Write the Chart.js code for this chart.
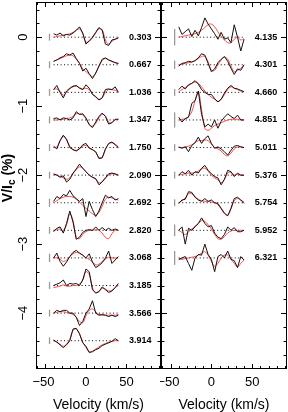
<!DOCTYPE html>
<html>
<head>
<meta charset="utf-8">
<script src="https://cdn.jsdelivr.net/npm/chart.js@4"></script>
<style>
  html, body { margin: 0; padding: 0; background: #fff; }
  #wrap { position: relative; width: 288px; height: 412px; }
  canvas { position: absolute; top: 0; }
</style>
</head>
<body>
<div id="wrap">
  <canvas id="leftPanel" width="162" height="412" style="left:0"></canvas>
  <canvas id="rightPanel" width="128" height="412" style="left:160px"></canvas>
</div>
<script>
// velocity grid (km/s)
const velocity = [-40, -36, -32, -28, -24, -20, -16, -12, -8, -4, 0, 4, 8, 12, 16, 20, 24, 28, 32, 36, 40]

// rotational phases
const phasesLeft = ["0.303", "0.667", "1.036", "1.347", "1.750", "2.090", "2.692", "2.820", "3.068", "3.185", "3.566", "3.914"]
const phasesRight = ["4.135", "4.301", "4.660", "4.851", "5.011", "5.376", "5.754", "5.952", "6.321"]

// observed Stokes V (%), left column
const obsLeft = [
  [0.05, 0.03, 0.06, 0.02, 0.04, 0.03, 0.06, 0.10, 0.15, 0.06, -0.10, -0.05, 0.00, 0.07, 0.14, 0.10, -0.10, -0.12, -0.04, -0.03, -0.01],
  [0.05, 0.07, 0.10, 0.12, 0.16, 0.14, 0.17, 0.09, 0.02, -0.09, -0.05, -0.13, -0.20, -0.12, -0.02, 0.08, 0.10, 0.07, 0.05, 0.03, 0.02],
  [0.04, 0.10, 0.00, -0.08, 0.02, 0.06, 0.09, 0.10, 0.06, 0.04, 0.11, 0.06, -0.03, -0.06, -0.11, -0.08, 0.04, 0.05, 0.04, 0.08, 0.00],
  [0.02, 0.03, 0.00, 0.03, 0.02, 0.00, 0.03, 0.12, 0.08, 0.09, 0.03, -0.07, -0.11, -0.03, 0.05, 0.10, 0.05, -0.06, -0.04, 0.01, 0.01],
  [0.02, -0.02, 0.10, 0.18, 0.12, 0.00, -0.03, -0.05, -0.02, 0.04, 0.06, -0.01, -0.03, -0.06, -0.16, -0.15, -0.02, 0.06, 0.08, 0.04, 0.00],
  [0.02, 0.00, -0.03, -0.01, -0.10, -0.06, 0.03, 0.09, 0.16, 0.10, 0.05, 0.00, -0.03, -0.05, -0.14, -0.10, -0.04, 0.02, 0.03, 0.02, 0.00],
  [0.02, 0.09, 0.06, 0.12, 0.10, 0.18, 0.10, 0.06, 0.02, 0.06, -0.20, 0.02, -0.10, -0.20, -0.12, 0.00, 0.11, 0.07, 0.09, 0.04, 0.06],
  [-0.02, 0.03, 0.05, -0.04, 0.10, 0.28, 0.12, -0.13, -0.10, -0.03, 0.00, 0.01, 0.00, 0.05, 0.00, 0.04, 0.00, 0.03, 0.00, 0.02, 0.00],
  [0.00, 0.07, -0.05, -0.12, -0.06, 0.02, 0.08, 0.11, 0.07, 0.04, 0.00, 0.06, -0.06, -0.14, -0.11, -0.07, 0.00, 0.10, -0.08, -0.03, 0.02],
  [0.00, 0.02, 0.04, 0.08, 0.00, 0.03, 0.02, 0.03, 0.00, 0.08, 0.24, 0.20, -0.06, -0.11, -0.09, -0.02, -0.06, -0.10, -0.08, -0.03, 0.03],
  [0.00, 0.04, 0.02, 0.04, 0.04, 0.00, 0.00, -0.06, -0.18, -0.12, 0.00, 0.06, 0.18, 0.00, -0.03, -0.02, -0.03, -0.05, -0.03, -0.05, -0.03],
  [0.01, -0.02, -0.06, -0.10, -0.06, 0.00, 0.17, 0.18, 0.10, -0.03, -0.08, -0.17, -0.16, -0.13, -0.11, -0.07, -0.05, -0.03, -0.01, 0.03, 0.00]
]

// model Stokes V (%), left column
const modLeft = [
  [0.00, 0.01, 0.02, 0.03, 0.04, 0.05, 0.07, 0.10, 0.12, 0.05, -0.07, -0.06, -0.01, 0.06, 0.12, 0.11, -0.04, -0.10, -0.06, -0.03, -0.01],
  [0.05, 0.07, 0.09, 0.11, 0.13, 0.14, 0.13, 0.08, 0.02, -0.06, -0.10, -0.14, -0.17, -0.12, -0.02, 0.06, 0.09, 0.07, 0.05, 0.03, 0.02],
  [0.04, 0.05, 0.01, -0.04, 0.00, 0.05, 0.08, 0.09, 0.07, 0.05, 0.06, 0.04, -0.02, -0.07, -0.10, -0.08, 0.00, 0.04, 0.04, 0.03, 0.01],
  [0.00, 0.00, 0.01, 0.01, 0.02, 0.03, 0.05, 0.09, 0.09, 0.07, 0.02, -0.06, -0.09, -0.05, 0.03, 0.08, 0.06, -0.03, -0.04, 0.00, 0.01],
  [0.00, 0.01, 0.10, 0.16, 0.11, 0.02, -0.03, -0.04, -0.01, 0.02, 0.03, 0.00, -0.03, -0.07, -0.14, -0.14, -0.03, 0.05, 0.07, 0.05, 0.01],
  [0.01, 0.00, -0.02, -0.04, -0.06, -0.04, 0.02, 0.08, 0.12, 0.10, 0.05, 0.00, -0.03, -0.06, -0.11, -0.09, -0.04, 0.00, 0.02, 0.01, 0.00],
  [0.00, 0.03, 0.06, 0.08, 0.09, 0.09, 0.08, 0.05, 0.01, -0.04, -0.08, -0.12, -0.16, -0.18, -0.14, -0.05, 0.05, 0.08, 0.07, 0.05, 0.04],
  [0.00, 0.01, 0.02, 0.00, 0.08, 0.24, 0.14, -0.10, -0.12, -0.06, -0.02, 0.00, 0.00, 0.01, 0.00, -0.04, -0.10, -0.12, -0.05, 0.00, 0.00],
  [0.00, 0.00, -0.02, -0.05, -0.03, 0.02, 0.06, 0.08, 0.07, 0.04, 0.00, -0.02, -0.06, -0.10, -0.09, -0.05, -0.02, 0.01, 0.00, 0.00, 0.00],
  [-0.03, -0.02, -0.01, 0.01, -0.01, -0.01, 0.00, 0.00, 0.02, 0.08, 0.20, 0.16, -0.03, -0.10, -0.08, -0.04, -0.05, -0.08, -0.07, -0.03, 0.00],
  [0.00, 0.01, 0.02, 0.02, 0.01, 0.00, -0.02, -0.06, -0.12, -0.14, -0.04, 0.04, 0.06, 0.02, -0.02, -0.03, -0.03, -0.03, -0.03, -0.03, -0.02],
  [0.00, -0.02, -0.05, -0.08, -0.05, 0.02, 0.15, 0.17, 0.10, -0.02, -0.10, -0.16, -0.15, -0.12, -0.09, -0.06, -0.04, -0.02, -0.01, 0.00, 0.00]
]

// observed Stokes V (%), right column
const obsRight = [
  [0.15, 0.04, 0.08, 0.12, 0.01, 0.10, 0.02, 0.14, 0.28, 0.19, 0.12, 0.05, -0.03, 0.07, -0.03, -0.01, -0.08, 0.18, 0.00, -0.20, -0.03],
  [-0.02, 0.02, 0.03, 0.05, 0.04, 0.06, 0.10, 0.16, 0.14, 0.02, -0.10, -0.06, 0.03, 0.08, 0.12, 0.05, -0.05, -0.14, -0.06, -0.08, 0.00],
  [0.04, 0.09, 0.05, 0.11, 0.13, 0.17, 0.12, 0.04, 0.00, -0.03, -0.03, -0.09, -0.14, -0.10, -0.01, 0.06, 0.10, 0.06, 0.05, 0.03, 0.01],
  [0.04, -0.03, 0.02, 0.04, 0.24, 0.28, 0.42, 0.08, -0.10, -0.06, -0.10, 0.00, -0.12, -0.02, 0.04, 0.09, 0.05, 0.02, 0.07, 0.00, 0.00],
  [0.01, -0.01, 0.01, -0.06, 0.03, 0.07, 0.15, 0.06, 0.13, 0.17, 0.06, -0.01, 0.01, -0.02, -0.06, -0.11, -0.04, 0.02, 0.03, 0.01, 0.00],
  [0.00, 0.05, 0.02, 0.07, 0.00, 0.05, 0.03, 0.10, 0.14, 0.07, 0.02, -0.02, -0.04, -0.14, -0.06, 0.07, 0.05, -0.02, 0.03, 0.00, 0.00],
  [-0.01, 0.04, 0.05, 0.16, 0.15, 0.08, 0.04, 0.02, 0.06, 0.02, 0.04, 0.00, -0.01, -0.08, -0.15, -0.19, -0.08, 0.06, 0.08, 0.04, -0.01],
  [0.00, 0.05, -0.20, 0.03, 0.00, 0.05, 0.10, 0.18, 0.10, 0.05, 0.07, -0.04, -0.10, -0.12, -0.06, 0.05, 0.00, 0.04, -0.02, -0.02, 0.00],
  [-0.02, 0.00, 0.02, -0.08, -0.18, 0.00, 0.05, 0.04, 0.20, 0.05, -0.02, -0.20, 0.02, 0.05, 0.00, 0.10, -0.02, -0.04, -0.14, 0.02, -0.03]
]

// model Stokes V (%), right column
const modRight = [
  [0.00, 0.01, 0.02, 0.03, 0.04, 0.05, 0.07, 0.10, 0.14, 0.18, 0.19, 0.15, 0.08, 0.01, -0.04, -0.08, -0.08, -0.03, 0.00, -0.04, -0.02],
  [0.00, 0.01, 0.02, 0.03, 0.04, 0.06, 0.09, 0.12, 0.12, 0.04, -0.08, -0.08, 0.00, 0.07, 0.11, 0.08, -0.02, -0.10, -0.08, -0.05, -0.01],
  [0.01, 0.04, 0.07, 0.10, 0.13, 0.15, 0.13, 0.08, 0.02, -0.03, -0.07, -0.10, -0.13, -0.10, -0.03, 0.04, 0.08, 0.06, 0.04, 0.02, 0.01],
  [0.00, 0.01, 0.02, 0.05, 0.12, 0.28, 0.40, 0.15, -0.12, -0.15, -0.12, -0.08, -0.06, -0.04, -0.02, 0.00, 0.01, 0.01, 0.01, 0.00, 0.00],
  [0.00, 0.00, 0.01, 0.02, 0.04, 0.07, 0.10, 0.10, 0.11, 0.10, 0.05, 0.00, -0.02, -0.05, -0.10, -0.12, -0.08, -0.02, 0.01, 0.01, 0.00],
  [0.00, 0.01, 0.02, 0.03, 0.03, 0.04, 0.06, 0.09, 0.10, 0.06, 0.00, -0.04, -0.07, -0.11, -0.06, 0.03, 0.04, 0.00, 0.01, 0.00, 0.00],
  [0.00, 0.03, 0.07, 0.13, 0.13, 0.09, 0.05, 0.03, 0.02, 0.02, 0.01, 0.00, -0.03, -0.09, -0.16, -0.18, -0.09, 0.03, 0.06, 0.04, 0.01],
  [0.00, -0.03, -0.06, -0.02, 0.02, 0.06, 0.10, 0.14, 0.13, 0.08, 0.02, -0.06, -0.12, -0.13, -0.09, -0.04, -0.01, 0.00, 0.00, 0.00, 0.00],
  [-0.02, -0.02, -0.01, 0.00, 0.01, 0.02, 0.04, 0.07, 0.09, 0.04, -0.05, -0.12, -0.08, 0.00, 0.04, 0.04, -0.02, -0.08, -0.13, -0.08, -0.03]
]

// error bar half-lengths (%)
const errLeft = [0.05, 0.05, 0.05, 0.05, 0.05, 0.05, 0.06, 0.05, 0.06, 0.05, 0.05, 0.05]
const errRight = [0.12, 0.06, 0.05, 0.11, 0.05, 0.05, 0.05, 0.085, 0.1]

// axis ticks
const xTickValues = [-50, 0, 50]
const xTickLabels = ["\u221250", "0", "50"]
const yTickValues = [0, -1, -2, -3, -4]
const yTickLabels = ["0", "\u22121", "\u22122", "\u22123", "\u22124"]

const offsetStep = 0.4
const labelVelocity = 67
const errVelocity = -45
const xRange = [-61.7, 92.6]
const yRange = [-4.81, 0.51]

// 各プロファイルをオフセットしてデータセットにする
function buildDatasets(obs, mod, errs) {
  const sets = []
  obs.forEach((profile, i) => {
    const off = -offsetStep * i
    sets.push({
      data: profile.map((v, k) => ({ x: velocity[k], y: v + off })),
      borderColor: "#111", borderWidth: 1, tension: 0, order: 0
    })
    sets.push({
      data: mod[i].map((v, k) => ({ x: velocity[k], y: v + off })),
      borderColor: "rgb(255, 70, 70)", borderWidth: 1, tension: 0.4, order: 1
    })
    sets.push({
      data: [{ x: velocity[0], y: off }, { x: velocity[velocity.length - 1], y: off }],
      borderColor: "#000", borderWidth: 1, borderDash: [1, 2.5], order: 2
    })
    sets.push({
      data: [{ x: errVelocity, y: off - errs[i] }, { x: errVelocity, y: off + errs[i] }],
      borderColor: "#999", borderWidth: 1.3, order: 3
    })
  })
  return sets
}

// 枠・内向きの目盛り・ラベルを描くプラグイン
const framePlugin = {
  id: "frame",
  afterDraw(chart, args, opts) {
    const ctx = chart.ctx
    const { left, right, top, bottom } = chart.chartArea
    const xs = chart.scales.x
    const ys = chart.scales.y
    ctx.save()
    ctx.strokeStyle = "#000"
    ctx.lineWidth = 1
    ctx.strokeRect(Math.round(left) + 0.5, Math.round(top) + 0.5, Math.round(right - left) - 1, Math.round(bottom - top) - 1)

    ctx.beginPath()
    for (let v = -60; v <= 90; v += 10) {
      const px = Math.round(xs.getPixelForValue(v)) + 0.5
      const len = v % 50 === 0 ? 5 : 3
      ctx.moveTo(px, bottom); ctx.lineTo(px, bottom - len)
      ctx.moveTo(px, top); ctx.lineTo(px, top + len)
    }
    for (let k = -24; k <= 2; k++) {
      const py = Math.round(ys.getPixelForValue(k * 0.2)) + 0.5
      const len = k % 5 === 0 ? 6 : 3.5
      ctx.moveTo(left, py); ctx.lineTo(left + len, py)
      ctx.moveTo(right, py); ctx.lineTo(right - len, py)
    }
    ctx.stroke()

    ctx.fillStyle = "#000"
    ctx.font = "13px 'Liberation Sans', Arial, sans-serif"
    ctx.textAlign = "center"
    ctx.textBaseline = "middle"
    xTickValues.forEach((v, i) => {
      ctx.fillText(xTickLabels[i], xs.getPixelForValue(v) - (v < 0 ? 2 : 0), bottom + 13)
    })
    ctx.font = "14px 'Liberation Sans', Arial, sans-serif"
    ctx.fillText("Velocity (km/s)", (left + right) / 2, 405)

    // phase labels
    ctx.font = "bold 9px 'Liberation Sans', Arial, sans-serif"
    opts.phases.forEach((p, i) => {
      ctx.fillText(p, xs.getPixelForValue(labelVelocity), ys.getPixelForValue(-offsetStep * i))
    })

    if (opts.yLabels) {
      ctx.font = "13px 'Liberation Sans', Arial, sans-serif"
      yTickValues.forEach((v, i) => {
        ctx.save()
        ctx.translate(23, ys.getPixelForValue(v))
        ctx.rotate(-Math.PI / 2)
        ctx.fillText(yTickLabels[i], 0, 0)
        ctx.restore()
      })
      // V/Ic (%)
      ctx.save()
      ctx.translate(8, 178)
      ctx.rotate(-Math.PI / 2)
      ctx.textAlign = "left"
      const big = "bold 14px 'Liberation Sans', Arial, sans-serif"
      const small = "bold 10px 'Liberation Sans', Arial, sans-serif"
      ctx.font = big
      const w1 = ctx.measureText("V/I").width
      const w3 = ctx.measureText(" (%)").width
      ctx.font = small
      const w2 = ctx.measureText("c").width
      let x0 = -(w1 + w2 + w3) / 2
      ctx.font = big
      ctx.fillText("V/I", x0, 0)
      ctx.font = small
      ctx.fillText("c", x0 + w1, 4)
      ctx.font = big
      ctx.fillText(" (%)", x0 + w1 + w2, 0)
      ctx.restore()
    }
    ctx.restore()
  }
}

function makePanel(canvasId, obs, mod, errs, phases, padding, yLabels) {
  return new Chart(document.getElementById(canvasId), {
    type: "line",
    data: { datasets: buildDatasets(obs, mod, errs) },
    options: {
      responsive: false,
      animation: false,
      events: [],
      layout: { padding: padding },
      elements: { point: { radius: 0 } },
      scales: {
        x: { type: "linear", min: xRange[0], max: xRange[1], display: false },
        y: { type: "linear", min: yRange[0], max: yRange[1], display: false }
      },
      plugins: {
        legend: { display: false },
        tooltip: { enabled: false },
        frame: { phases: phases, yLabels: yLabels }
      }
    },
    plugins: [framePlugin]
  })
}

makePanel("leftPanel", obsLeft, modLeft, errLeft, phasesLeft, { left: 36, right: 1, top: 2, bottom: 43 }, true)
makePanel("rightPanel", obsRight, modRight, errRight, phasesRight, { left: 1, right: 1, top: 2, bottom: 43 }, false)
</script>
</body>
</html>
